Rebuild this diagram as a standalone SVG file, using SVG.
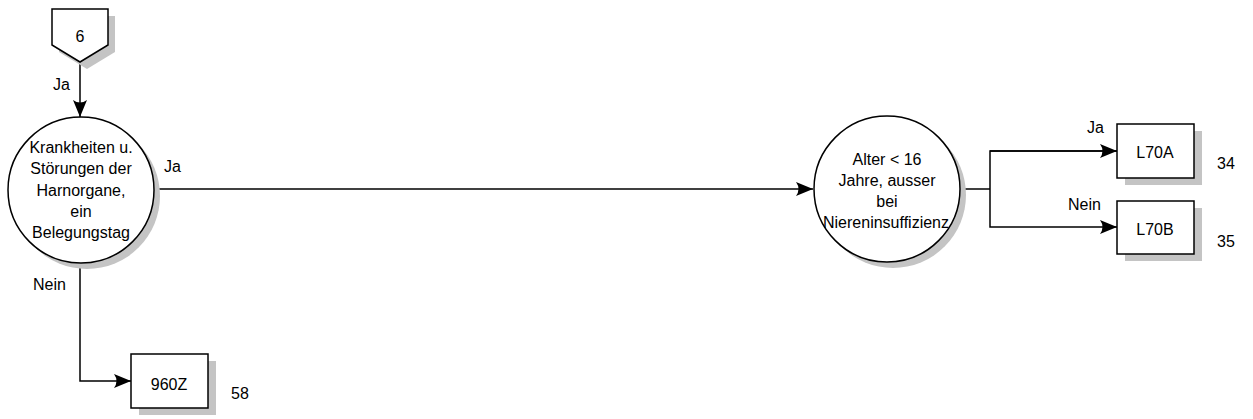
<svg xmlns="http://www.w3.org/2000/svg" width="1253" height="419" viewBox="0 0 1253 419">
<style>
  .shape{fill:#fff;stroke:#000;stroke-width:1.5}
  .shadow{fill:#c4c4c4;stroke:none}
  .conn{fill:none;stroke:#000;stroke-width:1.5}
  text{font-family:"Liberation Sans",Arial,sans-serif;font-size:16px;fill:#000}
  .c{text-anchor:middle}
</style>
<defs>
  <marker id="arr" markerUnits="userSpaceOnUse" markerWidth="20" markerHeight="20" refX="17" refY="8" orient="auto">
    <path d="M17,8 L0,1 Q5,8 0,15 Z" fill="#000"/>
  </marker>
</defs>
<rect width="1253" height="419" fill="#fff"/>
<g id="connectors">
  <line class="conn" x1="80" y1="62" x2="80" y2="117" marker-end="url(#arr)"/>
  <line class="conn" x1="154" y1="189" x2="813" y2="189" marker-end="url(#arr)"/>
  <polyline class="conn" points="80,263 80,381 131,381" marker-end="url(#arr)"/>
  <line class="conn" x1="960" y1="189" x2="990" y2="189"/>
  <polyline class="conn" points="1117,151 990,151 990,227 1117,227" marker-end="url(#arr)"/>
  <path class="conn" d="M990,151 L1117,151" marker-end="url(#arr)"/>
  <text x="53" y="90">Ja</text>
  <text x="164" y="172">Ja</text>
  <text x="33" y="290">Nein</text>
  <text x="1087" y="133">Ja</text>
  <text x="1068" y="210">Nein</text>
</g>
<g id="n6">
  <polygon class="shadow" points="59,16 115,16 115,52 87,69 59,52"/>
  <polygon class="shape" points="52,9 108,9 108,45 80,62 52,45"/>
  <text class="c" x="80" y="42">6</text>
</g>
<g id="krankheiten">
  <circle class="shadow" cx="87" cy="196" r="73"/>
  <circle class="shape" cx="81" cy="190" r="73"/>
  <text class="c" x="81" y="153">Krankheiten u.</text>
  <text class="c" x="81" y="174">Störungen der</text>
  <text class="c" x="81" y="196">Harnorgane,</text>
  <text class="c" x="81" y="217">ein</text>
  <text class="c" x="81" y="238">Belegungstag</text>
</g>
<g id="alter">
  <circle class="shadow" cx="893" cy="195" r="73"/>
  <circle class="shape" cx="887" cy="189" r="73"/>
  <text class="c" x="887" y="165">Alter &lt; 16</text>
  <text class="c" x="887" y="186">Jahre, ausser</text>
  <text class="c" x="887" y="207">bei</text>
  <text class="c" x="886" y="228">Niereninsuffizienz</text>
</g>
<g id="l70a">
  <rect class="shadow" x="1125" y="131" width="77" height="54"/>
  <rect class="shape" x="1117" y="124" width="77" height="54"/>
  <text class="c" x="1155" y="158">L70A</text>
  <text x="1217" y="169">34</text>
</g>
<g id="l70b">
  <rect class="shadow" x="1125" y="208" width="77" height="53"/>
  <rect class="shape" x="1117" y="201" width="77" height="53"/>
  <text class="c" x="1155" y="235">L70B</text>
  <text x="1217" y="247">35</text>
</g>
<g id="n960z">
  <rect class="shadow" x="139" y="361" width="77" height="54"/>
  <rect class="shape" x="131" y="354" width="77" height="54"/>
  <text class="c" x="169" y="390">960Z</text>
  <text x="231" y="399">58</text>
</g>
</svg>
